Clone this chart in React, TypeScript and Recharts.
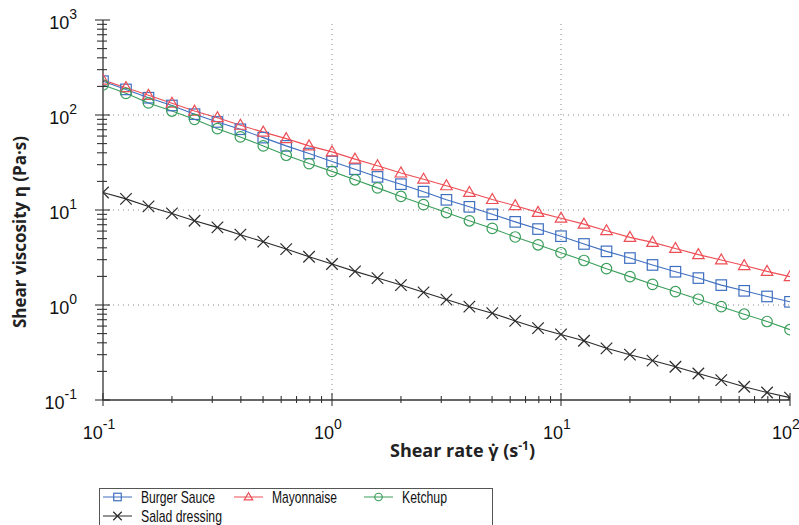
import React from "react";
import { LineChart, Line, XAxis, YAxis, ReferenceLine, Legend } from "recharts";

// shear rate, 10 points per decade
const shearRate = [
  0.1, 0.126, 0.158, 0.2, 0.251, 0.316, 0.398, 0.501, 0.631, 0.794,
  1, 1.26, 1.58, 2, 2.51, 3.16, 3.98, 5.01, 6.31, 7.94,
  10, 12.6, 15.8, 20, 25.1, 31.6, 39.8, 50.1, 63.1, 79.4, 100,
];

const burgerSauce = [
  227, 186, 152, 126, 102, 84.5, 70.8, 57.8, 47.3, 39.3,
  32.4, 26.9, 22.3, 18.7, 15.6, 12.8, 10.8, 9.0, 7.5, 6.3,
  5.3, 4.39, 3.67, 3.12, 2.64, 2.24, 1.92, 1.62, 1.41, 1.23, 1.08,
];
const mayonnaise = [
  233, 194, 161, 133, 110, 93.7, 78, 66, 56.4, 47.3,
  40.9, 34.3, 29.2, 24.5, 21.1, 18, 15.3, 12.9, 11.1, 9.44,
  8.2, 7.1, 6.05, 5.15, 4.56, 3.94, 3.39, 2.98, 2.6, 2.26, 1.99,
];
const ketchup = [
  207, 169, 134, 110, 90, 71.8, 58.8, 47.3, 37.7, 30.8,
  25.5, 20.8, 17.1, 13.9, 11.4, 9.4, 7.7, 6.4, 5.2, 4.3,
  3.55, 2.94, 2.41, 1.99, 1.65, 1.38, 1.15, 0.96, 0.8, 0.67, 0.55,
];
const saladDressing = [
  15.3, 13.1, 10.9, 9.2, 7.7, 6.56, 5.5, 4.64, 3.88, 3.22,
  2.7, 2.26, 1.92, 1.62, 1.36, 1.14, 0.96, 0.82, 0.68, 0.57,
  0.49, 0.42, 0.35, 0.3, 0.26, 0.224, 0.19, 0.162, 0.138, 0.12, 0.106,
];

const xTicks = [
  0.1, 0.2, 0.3, 0.4, 0.5, 0.6, 0.7, 0.8, 0.9,
  1, 2, 3, 4, 5, 6, 7, 8, 9,
  10, 20, 30, 40, 50, 60, 70, 80, 90, 100,
];
const yTicks = [
  0.1, 0.2, 0.3, 0.4, 0.5, 0.6, 0.7, 0.8, 0.9,
  1, 2, 3, 4, 5, 6, 7, 8, 9,
  10, 20, 30, 40, 50, 60, 70, 80, 90,
  100, 200, 300, 400, 500, 600, 700, 800, 900, 1000,
];
const xGrid = [1, 10];
const yGrid = [1, 10, 100];

const series = [
  { key: "burger", name: "Burger Sauce", values: burgerSauce, color: "#3f6fc0", shape: "square", textWidth: 74 },
  { key: "mayo", name: "Mayonnaise", values: mayonnaise, color: "#ee4e55", shape: "triangle", textWidth: 65 },
  { key: "ketchup", name: "Ketchup", values: ketchup, color: "#3a9e5a", shape: "circle", textWidth: 45 },
  { key: "salad", name: "Salad dressing", values: saladDressing, color: "#2b2b2b", shape: "cross", textWidth: 81 },
];

const data = shearRate.map((x, i) => {
  const row: Record<string, number> = { x };
  series.forEach((s) => (row[s.key] = s.values[i]));
  return row;
});

const AXIS = "#333";
const TICK_FONT = "'Liberation Sans', Arial, sans-serif";
const TITLE_FONT = "'Open Sans', 'DejaVu Sans', sans-serif";

const isDecade = (v: number) => {
  const l = Math.log10(v);
  return Math.abs(l - Math.round(l)) < 1e-6;
};

function Marker({ shape, color, cx, cy, s }: any) {
  const common = { fill: "none", stroke: color, strokeWidth: 1.2 };
  if (shape === "square") return <rect x={cx - s / 2} y={cy - s / 2} width={s} height={s} {...common} />;
  if (shape === "circle") return <circle cx={cx} cy={cy} r={s / 2} {...common} />;
  if (shape === "triangle") {
    const h = s * 0.95;
    return (
      <polygon
        points={`${cx},${cy - h * 0.6} ${cx - s / 2 - 0.5},${cy + h * 0.4} ${cx + s / 2 + 0.5},${cy + h * 0.4}`}
        {...common}
      />
    );
  }
  const d = s / 2 + 0.5;
  return (
    <g {...common}>
      <line x1={cx - d} y1={cy - d} x2={cx + d} y2={cy + d} />
      <line x1={cx - d} y1={cy + d} x2={cx + d} y2={cy - d} />
    </g>
  );
}

const makeDot = (shape: string, color: string) => (props: any) => {
  const { cx, cy, index } = props;
  if (cx == null || cy == null) return <g key={index} />;
  return (
    <g key={index}>
      <Marker shape={shape} color={color} cx={cx} cy={cy} s={10.5} />
    </g>
  );
};

function Pow({ exp, ...rest }: any) {
  return (
    <text fontFamily={TICK_FONT} fill="#111" fontSize={18} {...rest}>
      <tspan>10</tspan>
      <tspan dy={-10} fontSize={14}>{exp}</tspan>
    </text>
  );
}

const BottomTick = ({ x, y, payload }: any) => {
  const v = payload.value;
  const major = isDecade(v);
  return (
    <g>
      <line x1={x} x2={x} y1={major ? y - 7 : y - 4} y2={major ? y + 6 : y + 3} stroke={AXIS} strokeWidth={1.1} />
      {major && <Pow x={x - 4} y={y + 39} textAnchor="middle" exp={Math.round(Math.log10(v))} />}
    </g>
  );
};

const TopTick = ({ x, y, payload }: any) => {
  const major = isDecade(payload.value);
  return <line x1={x} x2={x} y1={y} y2={y + (major ? 6 : 4)} stroke={AXIS} strokeWidth={1.1} />;
};

const LeftTick = ({ x, y, payload }: any) => {
  const v = payload.value;
  const major = isDecade(v);
  return (
    <g>
      <line x1={major ? x - 8 : x - 6} x2={major ? x + 7 : x + 4} y1={y} y2={y} stroke={AXIS} strokeWidth={1.1} />
      {major && <Pow x={x - 26} y={y + 8.5} textAnchor="end" exp={Math.round(Math.log10(v))} />}
    </g>
  );
};

const RightTick = ({ x, y, payload }: any) => {
  const major = isDecade(payload.value);
  return <line x1={x - (major ? 7 : 5)} x2={x} y1={y} y2={y} stroke={AXIS} strokeWidth={1.1} />;
};

const XTitle = ({ viewBox }: any) => (
  <text
    x={viewBox.x + viewBox.width / 2 + 16}
    y={viewBox.y + 57}
    textAnchor="middle"
    fontFamily={TITLE_FONT}
    fontWeight={700}
    fontSize={18}
    fill="#222"
  >
    <tspan>{"Shear rate \u03B3\u0307 (s"}</tspan>
    <tspan dy={-7} fontSize={12}>-1</tspan>
    <tspan dy={7}>)</tspan>
  </text>
);

const YTitle = ({ viewBox }: any) => {
  const cx = viewBox.x + 11;
  const cy = viewBox.y + viewBox.height / 2 + 22;
  return (
    <text
      x={cx}
      y={cy}
      transform={`rotate(-90 ${cx} ${cy})`}
      textAnchor="middle"
      dominantBaseline="central"
      fontFamily={TITLE_FONT}
      fontWeight={700}
      fontSize={17}
      fill="#222"
    >
      {"Shear viscosity \u03B7 (Pa\u00B7s)"}
    </text>
  );
};

const legendCols = [0, 131, 261];

function LegendBox() {
  return (
    <svg width={400} height={37} style={{ display: "block" }}>
      <rect x={0.5} y={0.5} width={393} height={50} fill="#fff" stroke="#555" strokeWidth={1} />
      {series.map((s, i) => {
        const ox = legendCols[i % 3];
        const ly = i < 3 ? 9 : 28;
        return (
          <g key={s.key}>
            <line x1={ox + 4} x2={ox + 33} y1={ly} y2={ly} stroke={s.color} strokeWidth={1} />
            <Marker shape={s.shape} color={s.color} cx={ox + 18.5} cy={ly} s={7.5} />
            <text
              x={ox + 42}
              y={ly + 6}
              fontFamily="'Liberation Sans Narrow', 'Arial Narrow', 'Liberation Sans', sans-serif"
              fontSize={17}
              fill="#111"
              textLength={s.textWidth}
              lengthAdjust="spacingAndGlyphs"
            >
              {s.name}
            </text>
          </g>
        );
      })}
    </svg>
  );
}

export default function App() {
  return (
    <div style={{ position: "absolute", left: 0, top: 0, background: "#fff" }}>
      <LineChart width={799} height={525} data={data} margin={{ top: 20, right: 9, left: 8, bottom: 95 }}>
        <XAxis
          dataKey="x"
          type="number"
          scale="log"
          domain={[0.1, 100]}
          allowDataOverflow
          ticks={xTicks}
          interval={0}
          height={30}
          tickSize={0}
          tickMargin={0}
          tickLine={false}
          axisLine={{ stroke: AXIS, strokeWidth: 1.3 }}
          tick={<BottomTick />}
          label={<XTitle />}
        />
        <XAxis
          xAxisId="top"
          orientation="top"
          type="number"
          scale="log"
          domain={[0.1, 100]}
          allowDataOverflow
          ticks={xTicks}
          interval={0}
          height={0}
          tickSize={0}
          tickMargin={0}
          tickLine={false}
          axisLine={{ stroke: AXIS, strokeWidth: 1.3 }}
          tick={<TopTick />}
        />
        <YAxis
          type="number"
          scale="log"
          domain={[0.1, 1000]}
          allowDataOverflow
          ticks={yTicks}
          interval={0}
          width={95}
          tickSize={0}
          tickMargin={0}
          tickLine={false}
          axisLine={{ stroke: AXIS, strokeWidth: 1.3 }}
          tick={<LeftTick />}
          label={<YTitle />}
        />
        <YAxis
          yAxisId="right"
          orientation="right"
          type="number"
          scale="log"
          domain={[0.1, 1000]}
          allowDataOverflow
          ticks={yTicks}
          interval={0}
          width={0}
          tickSize={0}
          tickMargin={0}
          tickLine={false}
          axisLine={{ stroke: AXIS, strokeWidth: 1.3 }}
          tick={<RightTick />}
        />
        {xGrid.map((v) => (
          <ReferenceLine key={`gx${v}`} x={v} stroke="#888" strokeDasharray="1 4" />
        ))}
        {yGrid.map((v) => (
          <ReferenceLine key={`gy${v}`} y={v} stroke="#888" strokeDasharray="1 4" />
        ))}
        {series.map((s) => (
          <Line
            key={s.key}
            dataKey={s.key}
            name={s.name}
            type="linear"
            stroke={s.color}
            strokeWidth={1.1}
            dot={makeDot(s.shape, s.color)}
            activeDot={false}
            isAnimationActive={false}
          />
        ))}
        <Legend
          layout="horizontal"
          verticalAlign="middle"
          align="center"
          wrapperStyle={{ left: 99, top: 488, width: 400, height: 37 }}
          content={() => <LegendBox />}
        />
      </LineChart>
    </div>
  );
}
